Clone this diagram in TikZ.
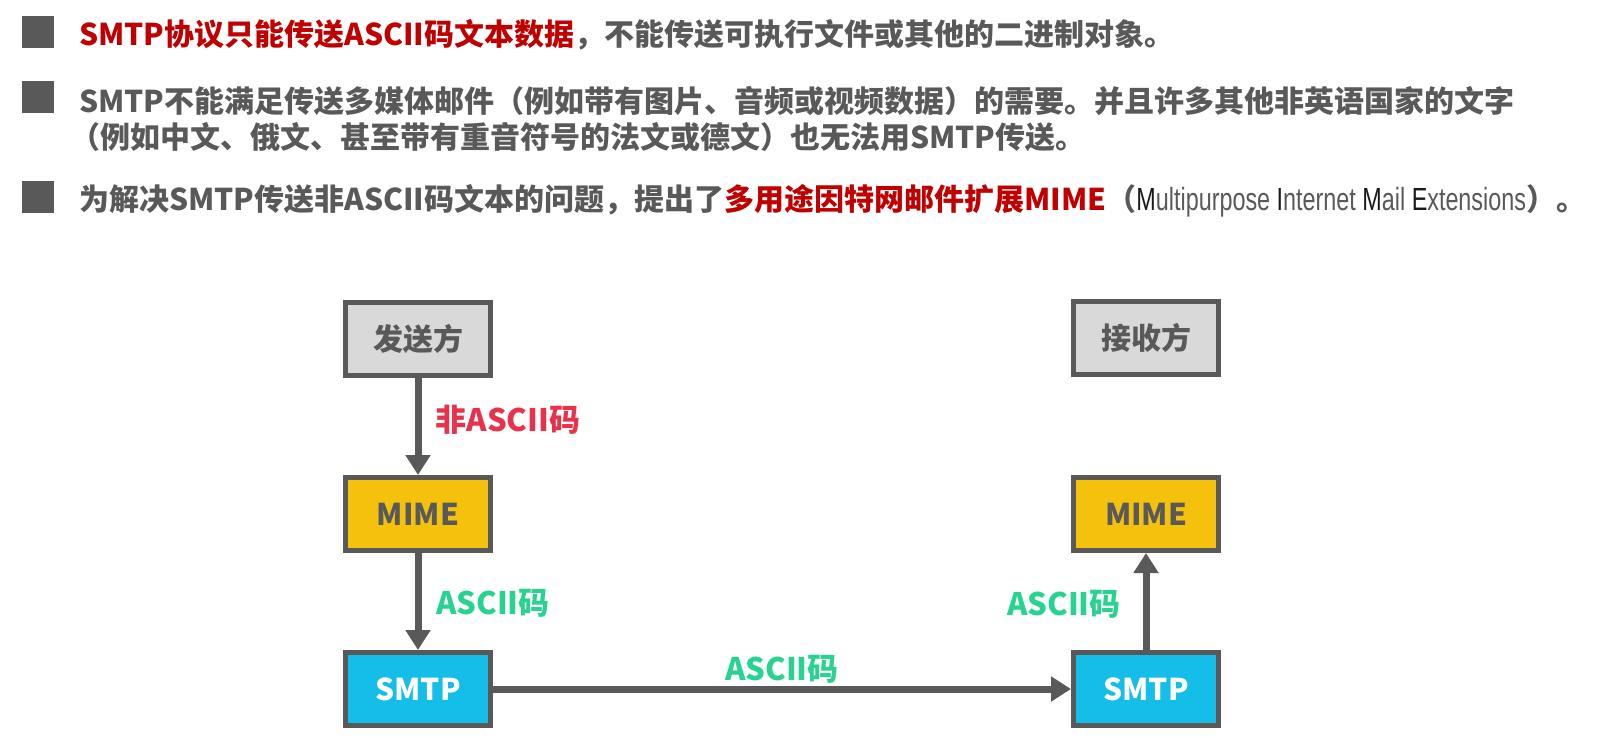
\documentclass[tikz,border=0pt]{standalone}
\usepackage{fontspec}
\setmainfont{Noto Sans CJK SC}
\newfontfamily\eng{Liberation Sans}[FakeStretch=0.73]
\usetikzlibrary{arrows.meta}
\definecolor{txtgray}{HTML}{595959}
\definecolor{hired}{HTML}{C00000}
\definecolor{boxgray}{HTML}{D9D9D9}
\definecolor{mimegold}{HTML}{F4C20D}
\definecolor{smtpblue}{HTML}{14BEE9}
\definecolor{lblred}{HTML}{E8324C}
\definecolor{lblgreen}{HTML}{27D38F}
\definecolor{initblack}{HTML}{1A1A1A}
\tikzset{
  bullet/.style={fill=txtgray, minimum size=32pt, inner sep=0pt},
  textline/.style={anchor=base west, inner sep=0pt, text=txtgray, font=\fontsize{30}{36}\selectfont\bfseries},
  box/.style={draw=txtgray, line width=5pt, minimum width=145pt, minimum height=73pt, inner sep=0pt, font=\fontsize{30}{36}\selectfont\bfseries, text=txtgray},
  arr/.style={draw=txtgray, line width=7pt, -{Triangle[length=20pt,width=24pt]}},
  lbl/.style={font=\fontsize{31}{36}\selectfont\bfseries, inner sep=0pt}
}
\begin{document}
\begin{tikzpicture}[x=1pt,y=-1pt]
\fill[white] (0,0) rectangle (1598,737);
\useasboundingbox (0,0) rectangle (1598,737);
% bullets
\node[bullet] (b1) at (38,32) {};
\node[bullet] (b2) at (38,97) {};
\node[bullet] (b3) at (38,197) {};
% text lines
\node[textline] (t1) at (79,45) {\textcolor{hired}{SMTP协议只能传送ASCII码文本数据}，不能传送可执行文件或其他的二进制对象。};
\node[textline] (t2) at (79,112) {SMTP不能满足传送多媒体邮件（例如带有图片、音频或视频数据）的需要。并且许多其他非英语国家的文字};
\node[textline] (t2b) at (70,148) {（例如中文、俄文、甚至带有重音符号的法文或德文）也无法用SMTP传送。};
\node[textline] (t3) at (79,210) {为解决SMTP传送非ASCII码文本的问题，提出了\textcolor{hired}{多用途因特网邮件扩展MIME}（{\eng\mdseries\fontsize{32}{36}\selectfont\textcolor{initblack}{M}ultipurpose \textcolor{initblack}{I}nternet \textcolor{initblack}{M}ail \textcolor{initblack}{E}xtensions}）。};
% boxes
\node[box, fill=boxgray] (send) at (418,339) {发送方};
\node[box, fill=mimegold] (mimeL) at (418,514) {MIME};
\node[box, fill=smtpblue, text=white] (smtpL) at (418,689) {SMTP};
\node[box, fill=boxgray] (recv) at (1146,338) {接收方};
\node[box, fill=mimegold] (mimeR) at (1146,514) {MIME};
\node[box, fill=smtpblue, text=white] (smtpR) at (1146,689) {SMTP};
% arrows
\draw[arr] (send) -- (mimeL);
\draw[arr] (mimeL) -- (smtpL);
\draw[arr] (smtpL) -- (smtpR);
\draw[arr] (smtpR) -- (mimeR);
% labels
\node[lbl, text=lblred] (l1) at (508,420) {非ASCII码};
\node[lbl, text=lblgreen] (l2) at (493,603) {ASCII码};
\node[lbl, text=lblgreen] (l3) at (1064,604) {ASCII码};
\node[lbl, text=lblgreen] (l4) at (782,669) {ASCII码};
\end{tikzpicture}
\end{document}
